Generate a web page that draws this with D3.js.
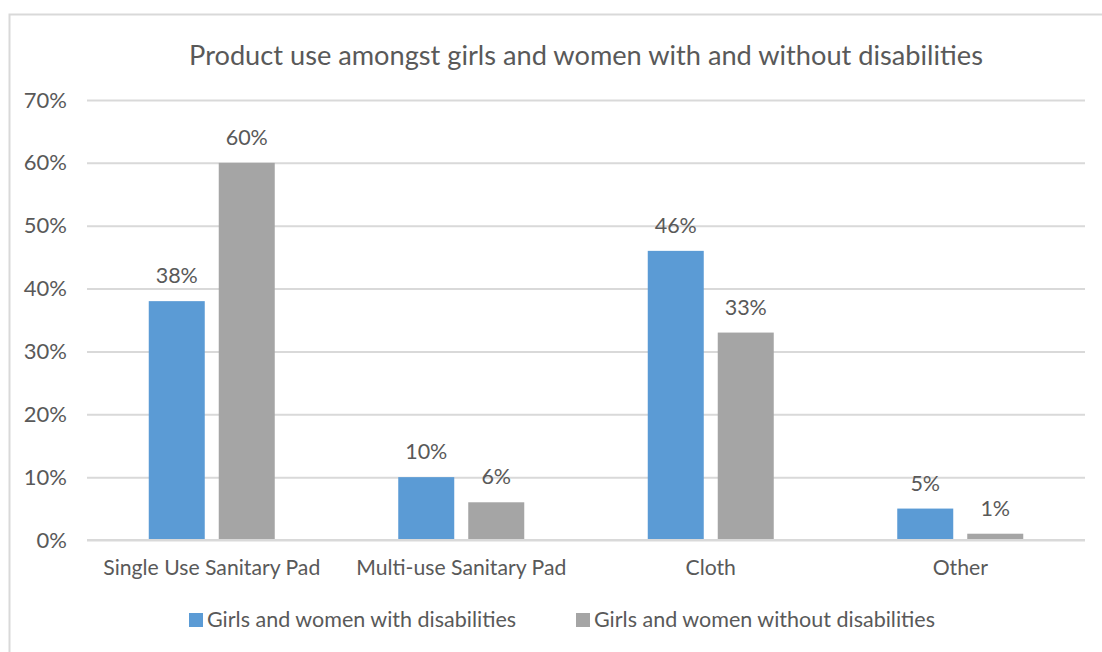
<!DOCTYPE html>
<html><head><meta charset="utf-8">
<script src="https://cdn.jsdelivr.net/npm/d3@7"></script>
<style>
body{margin:0;background:#fff;}
text{font-family:"Lato","Open Sans",sans-serif;fill:#595959;}
</style></head>
<body><svg id="c" width="1102" height="652"></svg>
<script>
const categories = ["Single Use Sanitary Pad","Multi-use Sanitary Pad","Cloth","Other"];
const seriesNames = ["Girls and women with disabilities","Girls and women without disabilities"];
const withDis = [38,10,46,5];
const withoutDis = [60,6,33,1];
const yTicks = [0,10,20,30,40,50,60,70];
const colors = ["#5B9BD5","#A5A5A5"];

const svg = d3.select("#c");
svg.append("rect").attr("x",9.5).attr("y",14.5).attr("width",1110).attr("height",660)
  .attr("fill","#fff").attr("stroke","#D9D9D9").attr("stroke-width",2);

const m = {l:87, r:1085, t:100, b:540};
const x = d3.scaleBand().domain(categories).range([m.l,m.r]);
const y = d3.scaleLinear().domain([0,70]).range([m.b,m.t]);
const barW = 56, gap = 14;
const xs = d3.scaleBand().domain([0,1]).range([0, 2*barW+gap]).paddingInner(gap/(barW+gap));

svg.append("text").attr("x",(m.l+m.r)/2).attr("y",65).attr("text-anchor","middle")
  .style("font-size","27.2px").text("Product use amongst girls and women with and without disabilities");

const yAxis = svg.append("g").attr("transform",`translate(${m.l},0)`)
  .call(d3.axisLeft(y).tickValues(yTicks).tickFormat(d=>d+"%").tickSize(-(m.r-m.l)).tickPadding(20));
yAxis.select(".domain").remove();
yAxis.selectAll("line").attr("stroke","#D9D9D9").attr("stroke-width",2);
yAxis.selectAll("text").style("font-size","22px").attr("fill","#595959").style("font-family","Lato");

const data = categories.map((c,i)=>({c, v:[withDis[i],withoutDis[i]]}));
const g = svg.append("g");
data.forEach(d=>{
  const x0 = x(d.c) + (x.bandwidth() - (2*barW+gap))/2;
  d.v.forEach((v,j)=>{
    g.append("rect").attr("x",x0+xs(j)).attr("y",y(v)).attr("width",xs.bandwidth())
      .attr("height",y(0)-y(v)).attr("fill",colors[j]);
    g.append("text").attr("x",x0+xs(j)+xs.bandwidth()/2).attr("y",y(v)-18)
      .attr("text-anchor","middle").style("font-size","21.5px").text(v+"%");
  });
});
svg.append("line").attr("x1",m.l).attr("x2",m.r).attr("y1",y(0)).attr("y2",y(0)).attr("stroke","#D9D9D9").attr("stroke-width",2);

const xAxis = svg.append("g").attr("transform",`translate(0,${m.b})`)
  .call(d3.axisBottom(x).tickSize(0).tickPadding(20));
xAxis.select(".domain").remove();
xAxis.selectAll("text").style("font-size","21.2px").attr("fill","#595959").style("font-family","Lato");

const legX = [189, 576];
seriesNames.forEach((s,i)=>{
  svg.append("rect").attr("x",legX[i]).attr("y",613).attr("width",14).attr("height",14).attr("fill",colors[i]);
  svg.append("text").attr("x",legX[i]+18).attr("y",627)
    .style("font-size","21.5px").text(s);
});
</script></body></html>
